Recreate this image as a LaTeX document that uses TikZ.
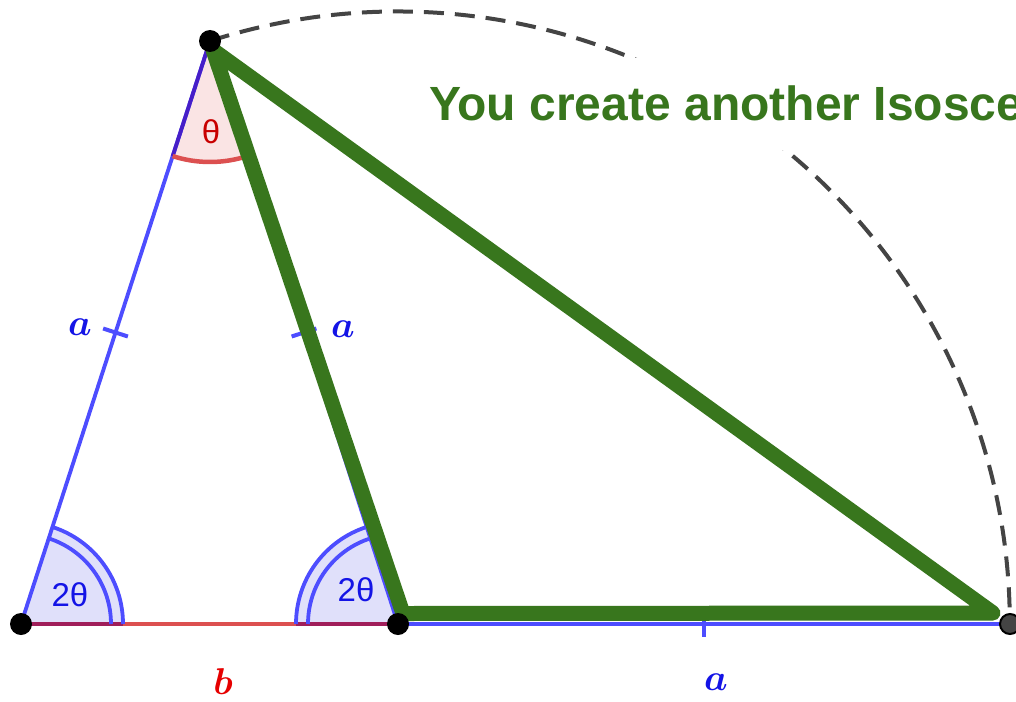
\documentclass[tikz,border=0pt]{standalone}
\usepackage{amsmath,bm}
\usepackage{fontspec}
\setsansfont{Liberation Sans}
\usetikzlibrary{calc}
\definecolor{gblue}{RGB}{77,77,255}
\definecolor{gred}{RGB}{220,80,80}
\definecolor{ggreen}{RGB}{56,118,29}
\definecolor{afill}{RGB}{224,224,250}
\definecolor{pfill}{RGB}{250,228,228}
\definecolor{purp}{RGB}{70,30,200}
\definecolor{mauve}{RGB}{160,30,90}
\definecolor{arcgray}{RGB}{68,68,68}
\definecolor{lblue}{RGB}{20,20,230}
\definecolor{lred}{RGB}{230,0,0}
\definecolor{tred}{RGB}{200,0,0}
\tikzset{
  side/.style={line width=3.8pt},
  anglearc/.style={line width=3.8pt, gblue},
  tick/.style={line width=4pt, gblue},
  dot/.style={circle, fill=black, inner sep=0pt, minimum size=22pt},
  mlabel/.style={font=\Huge, inner sep=0pt, scale=1.5, transform shape},
  alabel/.style={font=\sffamily\fontsize{33}{36}\selectfont, inner sep=0pt},
  greenside/.style={line width=15pt, ggreen, line join=round, line cap=round},
}
\begin{document}
\begin{tikzpicture}[x=1pt,y=-1pt]
\useasboundingbox (0,0) rectangle (1016,701);
\clip (0,0) rectangle (1016,701);
\fill[white] (0,0) rectangle (1016,701);
% points
\coordinate (A) at (21,624);
\coordinate (B) at (398,624);
\coordinate (C) at (210,41);
\coordinate (D) at (1010,624);
\coordinate (C2) at (213,50);
\coordinate (B2) at (403,613.5);
\coordinate (D2) at (993,613);
% dashed arc centred at B
\draw[arcgray, line width=4pt, dash pattern=on 20pt off 11pt] (C) arc[start angle=-107.87, end angle=0, radius=612];
% title
\node[anchor=base west, fill=white, inner xsep=6pt, inner ysep=0pt, text height=62pt, text depth=30pt,
      font=\sffamily\bfseries\fontsize{48}{54}\selectfont, text=ggreen] (title) at (423,120) {You create another Isosce};
% angle fills
\fill[afill] (A) -- ($(A)+(0:102)$) arc[start angle=0, end angle=-72.04, radius=102] -- cycle;
\fill[afill] (B) -- ($(B)+(-180:102)$) arc[start angle=-180, end angle=-107.87, radius=102] -- cycle;
\fill[pfill] (C) -- ($(C)+(-252.04:121)$) arc[start angle=-252.04, end angle=-287.87, radius=121] -- cycle;
% triangle sides
\draw[side, gred] (A) -- (B);
\draw[side, gblue] (A) -- (C);
\draw[side, gblue] (B) -- (C);
\draw[side, gblue] (B) -- (D);
% overlay of sector rays
\draw[side, mauve] (A) -- ($(A)+(0:102)$);
\draw[side, mauve] (B) -- ($(B)+(-180:102)$);
\draw[side, purp] (C) -- ($(C)+(-252.04:121)$);
% angle arcs
\draw[anglearc] ($(A)+(0:102)$) arc[start angle=0, end angle=-72.04, radius=102];
\draw[anglearc] ($(A)+(0:90)$) arc[start angle=0, end angle=-72.04, radius=90];
\draw[anglearc] ($(B)+(-180:102)$) arc[start angle=-180, end angle=-107.87, radius=102];
\draw[anglearc] ($(B)+(-180:90)$) arc[start angle=-180, end angle=-107.87, radius=90];
\draw[line width=4.5pt, gred] ($(C)+(-252.04:121)$) arc[start angle=-252.04, end angle=-287.87, radius=121];
% ticks
\coordinate (mAC) at ($(A)!0.5!(C)$);
\coordinate (mBC) at ($(B)!0.5!(C)$);
\coordinate (mBD) at ($(B)!0.5!(D)$);
\draw[tick] ($(mAC)+(-12.4,-4)$) -- ($(mAC)+(12.4,4)$);
\draw[tick] ($(mBC)+(-12.4,4)$) -- ($(mBC)+(12.4,-4)$);
\draw[tick] ($(mBD)+(0,-13)$) -- ($(mBD)+(0,13)$);
% green triangle
\draw[greenside] (C2) -- (B2) -- (D2) -- cycle;
% dots
\node[dot] (pA) at (A) {};
\node[dot] (pB) at (B) {};
\node[dot] (pC) at (C) {};
\node[circle, fill=arcgray, draw=black, line width=2pt, inner sep=0pt, minimum size=20pt] (pD) at (D) {};
% labels
\node[alabel, text=tred] (lt) at (211,132) {θ};
\node[alabel, text=lblue] (ltwoa) at (70,595) {2θ};
\node[alabel, text=lblue] (ltwob) at (356,590) {2θ};
\node[mlabel, text=lblue] (la1) at (80,327) {$\bm{a}$};
\node[mlabel, text=lblue] (la2) at (343,329) {$\bm{a}$};
\node[mlabel, text=lblue] (la3) at (716,682) {$\bm{a}$};
\node[mlabel, text=lred] (lb) at (223,682) {$\bm{b}$};
\end{tikzpicture}
\end{document}
